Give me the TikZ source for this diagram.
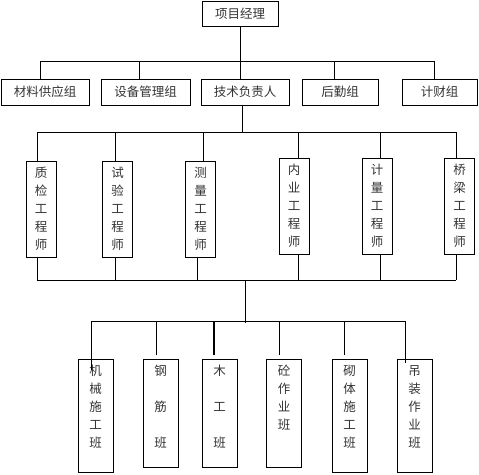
\documentclass[tikz,border=0pt]{standalone}
\usepackage{fontspec}
\newfontfamily\cjk{Noto Sans CJK SC}
\begin{document}
\begin{tikzpicture}[x=1pt,y=-1pt,
  box/.style={draw, line width=0.8pt, inner sep=0pt, text=black!80,
    font=\cjk\fontsize{12.5}{18}\selectfont, align=center},
  hbox/.style={box, minimum height=26pt},
  ebox/.style={box, minimum width=30pt, minimum height=96pt},
  bbox/.style={draw, line width=0.8pt, inner sep=0pt, minimum width=35pt, anchor=north},
  btxt/.style={inner sep=0pt, anchor=north, text=black!80,
    font=\cjk\fontsize{12.5}{18}\selectfont, align=center},
  ln/.style={line width=0.8pt}]
\clip (0,0) rectangle (479,474);
% top
\node[hbox, minimum width=76pt, minimum height=25pt] (pm) at (240,13.5) {项目经理};
% row 2
\node[hbox, minimum width=88pt] (g1) at (45,92) {材料供应组};
\node[hbox, minimum width=89pt] (g2) at (145.5,92) {设备管理组};
\node[hbox, minimum width=88pt] (g3) at (245,92) {技术负责人};
\node[hbox, minimum width=76pt] (g4) at (340,92) {后勤组};
\node[hbox, minimum width=75pt] (g5) at (439.5,92) {计财组};
\coordinate (b1m) at (240,61);
\coordinate (b1a) at (40,61);
\coordinate (b1b) at (139,61);
\coordinate (b1d) at (334,61);
\coordinate (b1e) at (434,61);
\draw[ln] (pm.south) -- (b1m);
\draw[ln] (b1a) -- (b1e);
\draw[ln] (b1a) -- (b1a |- g1.north);
\draw[ln] (b1b) -- (b1b |- g2.north);
\draw[ln] (b1m) -- (b1m |- g3.north);
\draw[ln] (b1d) -- (b1d |- g4.north);
\draw[ln] (b1e) -- (b1e |- g5.north);
% row 3
\node[ebox] (e1) at (41,209) {质\\检\\工\\程\\师};
\node[ebox] (e2) at (117.5,209) {试\\验\\工\\程\\师};
\node[ebox] (e3) at (200.5,209) {测\\量\\工\\程\\师};
\node[ebox] (e4) at (294,206) {内\\业\\工\\程\\师};
\node[ebox] (e5) at (377,206) {计\\量\\工\\程\\师};
\node[ebox] (e6) at (459.5,206) {桥\\梁\\工\\程\\师};
\coordinate (t2) at (242,105);
\coordinate (b2m) at (242,132);
\coordinate (b2a) at (37,132);
\coordinate (b2b) at (115,132);
\coordinate (b2c) at (203,132);
\coordinate (b2d) at (298,132);
\coordinate (b2e) at (380,132);
\coordinate (b2f) at (456,132);
\draw[ln] (t2) -- (b2m);
\draw[ln] (b2a) -- (b2f);
\draw[ln] (b2a) -- (b2a |- e1.north);
\draw[ln] (b2b) -- (b2b |- e2.north);
\draw[ln] (b2c) -- (b2c |- e3.north);
\draw[ln] (b2d) -- (b2d |- e4.north);
\draw[ln] (b2e) -- (b2e |- e5.north);
\draw[ln] (b2f) -- (b2f |- e6.north);
\coordinate (b3a) at (37,280);
\coordinate (b3b) at (115,280);
\coordinate (b3c) at (197,280);
\coordinate (b3d) at (298,280);
\coordinate (b3e) at (380,280);
\coordinate (b3f) at (456,280);
\coordinate (b3m) at (245,280);
\draw[ln] (b3a) -- (b3f);
\draw[ln] (b3a) -- (b3a |- e1.south);
\draw[ln] (b3b) -- (b3b |- e2.south);
\draw[ln] (b3c) -- (b3c |- e3.south);
\draw[ln] (b3d) -- (b3d |- e4.south);
\draw[ln] (b3e) -- (b3e |- e5.south);
\draw[ln] (b3f) -- (b3f |- e6.south);
% row 4
\node[bbox, minimum height=113pt] (w1) at (95.5,359) {};
\node[bbox, minimum height=108pt] (w2) at (160.5,359) {};
\node[bbox, minimum height=108pt] (w3) at (219.5,359) {};
\node[bbox, minimum height=108pt] (w4) at (284,359) {};
\node[bbox, minimum height=113pt] (w5) at (349.5,359) {};
\node[bbox, minimum height=113pt] (w6) at (414.5,359) {};
\node[btxt] (w1t) at (95.5,365) {机\\械\\施\\工\\班};
\node[btxt] (w2t) at (160.5,365) {钢\\[18pt]筋\\[18pt]班};
\node[btxt] (w3t) at (219.5,365) {木\\[18pt]工\\[18pt]班};
\node[btxt] (w4t) at (284,365) {砼\\作\\业\\班};
\node[btxt] (w5t) at (349.5,365) {砌\\体\\施\\工\\班};
\node[btxt] (w6t) at (414.5,365) {吊\\装\\作\\业\\班};
\coordinate (b4m) at (245,323);
\coordinate (b4a) at (91,321);
\coordinate (b4b) at (156,321);
\coordinate (b4c) at (214,321);
\coordinate (b4d) at (279,321);
\coordinate (b4e) at (344,321);
\coordinate (b4f) at (405,321);
\coordinate (c4a) at (91,370);
\coordinate (c4b) at (156,355);
\coordinate (c4c) at (214,355);
\coordinate (c4d) at (279,355);
\coordinate (c4e) at (344,355);
\coordinate (c4f) at (405,363);
\draw[ln] (b3m) -- (b4m);
\draw[ln] (b4a) -- (b4f);
\draw[ln] (b4a) -- (c4a);
\draw[ln] (b4b) -- (c4b);
\draw[line width=1.3pt] (b4c) -- (c4c);
\draw[ln] (b4d) -- (c4d);
\draw[ln] (b4e) -- (c4e);
\draw[ln] (b4f) -- (c4f);
\end{tikzpicture}
\end{document}
